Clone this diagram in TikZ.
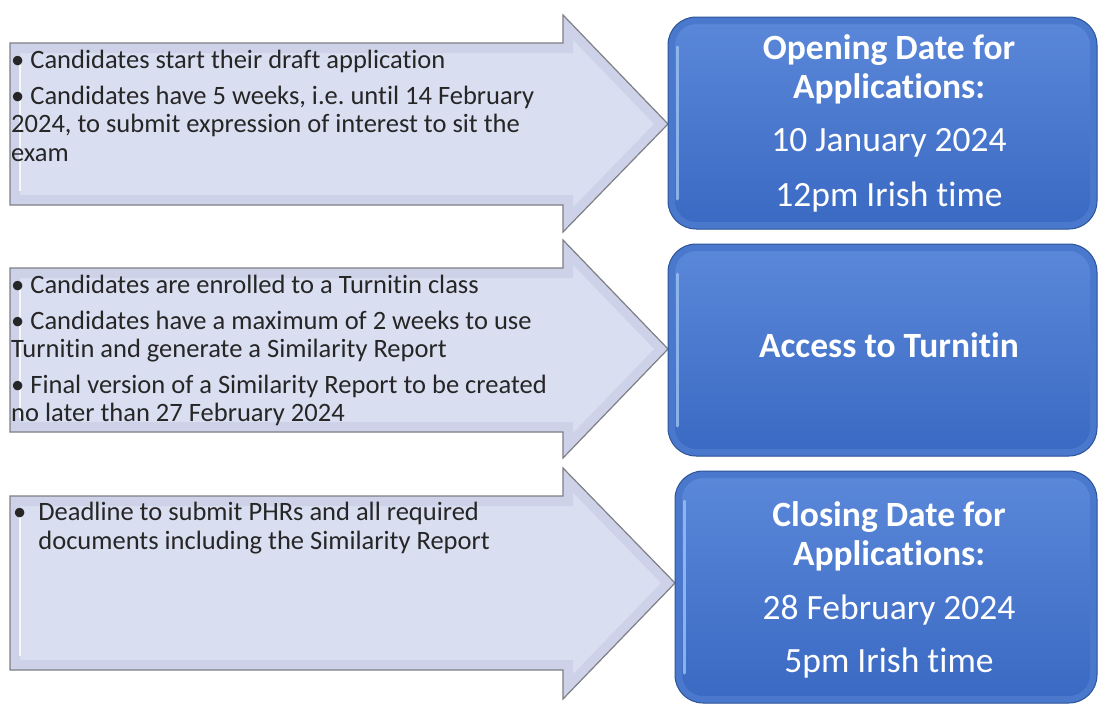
\documentclass[tikz,border=0pt]{standalone}
\usepackage{fontspec}
\setmainfont{Carlito}[Ligatures=NoCommon]
\usetikzlibrary{positioning}
\frenchspacing

\definecolor{arrowfill}{HTML}{DADEF1}
\definecolor{arrowrim}{HTML}{CDD2E9}
\definecolor{arrowedge}{HTML}{7F7F86}
\definecolor{boxtop}{HTML}{5B88D9}
\definecolor{boxbottom}{HTML}{3A69C3}
\definecolor{boxedge}{HTML}{2E5597}
\definecolor{boxrim}{HTML}{4A78CC}
\definecolor{boxshine}{HTML}{9CC2F4}
\definecolor{bullettext}{HTML}{262626}

% arrow outline: body top, body bottom, head top, head bottom, tip x, tip y
\newcommand{\timearrow}[6]{(10,#1) -- (563,#1) -- (563,#3) -- (#5,#6) -- (563,#4) -- (563,#2) -- (10,#2) -- cycle}

\tikzset{
  datebox/.style={draw=boxedge, line width=1pt, rounded corners=28pt,
    top color=boxtop, bottom color=boxbottom,
    minimum width=429pt, minimum height=212pt, inner sep=0pt,
    path picture={
      \draw[boxrim, line width=14pt, rounded corners=28pt]
        (path picture bounding box.south west) rectangle (path picture bounding box.north east);
      \draw[boxshine, line width=3pt, line cap=round, opacity=.8]
        ([xshift=9pt,yshift=-30pt]path picture bounding box.north west) --
        ([xshift=9pt,yshift=30pt]path picture bounding box.south west);
    }},
  datetext/.style={text=white, align=center, inner sep=0pt,
    font=\fontsize{35.5}{39}\selectfont},
  steptext/.style={anchor=north west, inner sep=0pt, align=left, text=bullettext,
    font=\fontsize{26.5}{28.5}\selectfont}
}

\begin{document}
\begin{tikzpicture}[x=1pt, y=-1pt]
    \useasboundingbox (0,0) rectangle (1098,704);

    % left column: bevelled arrows
    \foreach \bt/\bb/\ht/\hb/\tx/\ty in {43/205/15/232/668/124,
                                         268/432/240/458/668/349,
                                         496/670/468/699/675/583} {
      \begin{scope}
        \clip \timearrow{\bt}{\bb}{\ht}{\hb}{\tx}{\ty};
        \fill[arrowfill] \timearrow{\bt}{\bb}{\ht}{\hb}{\tx}{\ty};
        \draw[arrowrim, line width=20pt, line join=miter] \timearrow{\bt}{\bb}{\ht}{\hb}{\tx}{\ty};
        \draw[white, line width=2pt, opacity=.8] (20,\bt+14) -- (20,\bb-14);
      \end{scope}
      \draw[arrowedge, line width=1.2pt] \timearrow{\bt}{\bb}{\ht}{\hb}{\tx}{\ty};
    }

    % arrow texts
    \node[steptext] (t1) at (11,50) {\textbullet\ Candidates start their draft application\\[7pt]
      \textbullet\ Candidates have 5 weeks, i.e. until 14 February\\
      2024, to submit expression of interest to sit the\\
      exam};
    \node[steptext] (t2) at (11,275) {\textbullet\ Candidates are enrolled to a Turnitin class\\[7pt]
      \textbullet\ Candidates have a maximum of 2 weeks to use\\
      Turnitin and generate a Similarity Report\\[7pt]
      \textbullet\ Final version of a Similarity Report to be created\\
      no later than 27 February 2024};
    \node[steptext] (t3) at (13,502) {\textbullet\ \ Deadline to submit PHRs and all required\\
      \hphantom{\textbullet\ \ }documents including the Similarity Report};

    % right column: dates
    \node[datebox] (open) at (882.5,123) {};
    \node[datebox, below=14pt of open] (access) {};
    \node[datebox, minimum width=422pt, minimum height=232pt,
          below=14pt of access, xshift=3.5pt] (close) {};

    \node[datetext] (open text) at ([xshift=6.5pt]open) {\textbf{Opening Date for}\\
      \textbf{Applications:}\\[14pt]
      10 January 2024\\[16pt]
      12pm Irish time};
    \node[datetext] (access text) at ([xshift=6.5pt,yshift=5pt]access) {\textbf{Access to Turnitin}};
    \node[datetext] (close text) at ([xshift=3pt,yshift=-3pt]close) {\textbf{Closing Date for}\\
      \textbf{Applications:}\\[15pt]
      28 February 2024\\[14pt]
      5pm Irish time};
\end{tikzpicture}
\end{document}
